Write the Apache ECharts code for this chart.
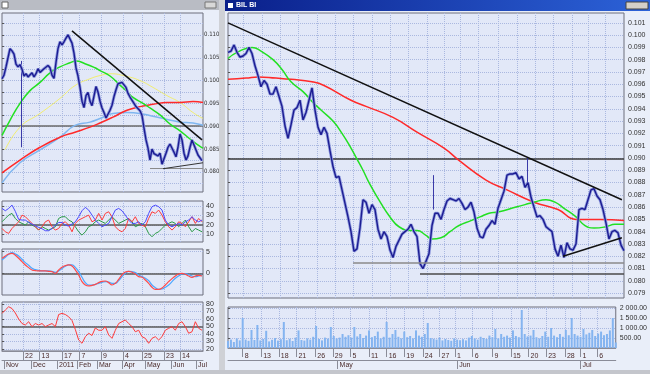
<!DOCTYPE html>
<html><head><meta charset="utf-8">
<script src="https://cdn.jsdelivr.net/npm/echarts@6/dist/echarts.min.js"></script>
<style>html,body{margin:0;padding:0;background:#e9eef9;}#c{width:650px;height:374px;}</style>
</head><body><div id="c"></div>
<script>
// ---------- LEFT WINDOW (daily) ----------
// x unit: sample index 0..100 (one sample per ~2 daily bars)
const leftPrice = [0.1004,0.1012,0.1030,0.1050,0.1070,0.1065,0.1058,0.1036,0.1030,0.1035,
0.1025,0.1010,0.1015,0.1008,0.1010,0.1017,0.1008,0.1015,0.1026,0.1018,
0.1020,0.1026,0.1030,0.1033,0.1028,0.1012,0.1005,0.1040,0.1070,0.1085,
0.1078,0.1085,0.1093,0.1100,0.1098,0.1082,0.1060,0.1028,0.1010,0.0985,
0.0955,0.0941,0.0967,0.0974,0.0955,0.0945,0.0943,0.0987,0.0975,0.0955,
0.0940,0.0930,0.0918,0.0915,0.0935,0.0946,0.0965,0.0980,0.0993,0.0990,
0.0996,0.0995,0.0985,0.0972,0.0964,0.0963,0.0950,0.0943,0.0939,0.0934,
0.0924,0.0896,0.0870,0.0852,0.0826,0.0850,0.0840,0.0836,0.0835,0.0841,
0.0817,0.0813,0.0841,0.0854,0.0861,0.0857,0.0843,0.0833,0.0854,0.0883,
0.0870,0.0841,0.0826,0.0835,0.0854,0.0870,0.0859,0.0848,0.0837,0.0841,
0.08245];
const leftSpikes = [[9.5, 0.1043, 0.0854]];
const leftMaGreen = [[0,0.0880],[4,0.0913],[9,0.0950],[14,0.0978],[19,0.0996],[24,0.1017],[29,0.1030],[34,0.1039],[37,0.1043],[41.5,0.1037],[46.5,0.1028],[49,0.1022],[54,0.1010],[59,0.0990],[62.5,0.0976],[65.5,0.0963],[70.5,0.0950],[74,0.0940],[79,0.0925],[84,0.0905],[89,0.0890],[94,0.0872],[99,0.0856],[100.5,0.0852]];
const leftMaYellow = [[1.5,0.0848],[9,0.0898],[19,0.0928],[29,0.0961],[36.5,0.0989],[44,0.1004],[49,0.1011],[54,0.1015],[62.5,0.1009],[69,0.1000],[75.5,0.0985],[82.5,0.0967],[89,0.0952],[95.5,0.0930],[100.5,0.0917]];
const leftMaBlue = [[0,0.0776],[9,0.0820],[19,0.0848],[29,0.0876],[36.5,0.0902],[44,0.0909],[49,0.0917],[55.5,0.0928],[62.5,0.0930],[69,0.0928],[75.5,0.0922],[82.5,0.0915],[89,0.0909],[95.5,0.0907],[100.5,0.0902]];
const leftMaRed = [[0,0.0798],[9,0.0826],[19,0.0854],[29,0.0876],[36.5,0.0887],[44,0.0898],[49,0.0907],[55.5,0.0920],[62.5,0.0935],[69,0.0943],[75.5,0.0948],[82.5,0.0952],[89,0.0952],[95.5,0.0954],[100.5,0.0952]];
const leftTrend = [[35,0.1109],[100,0.0870]];
const leftSupportFlat = [[74,0.0807],[100.5,0.0807]];
const leftSupportRise = [[80.5,0.0807],[100.5,0.0820]];
const leftLevel = 0.0902;
const leftPriceGridVals = [0.0775,0.0800,0.0825,0.0850,0.0875,0.0900,0.0925,0.0950,0.0975,0.1000,0.1025,0.1050,0.1075,0.1100,0.1125];
const leftPriceTicks = [0.080,0.085,0.090,0.095,0.100,0.105,0.110];

// indicator panels: 61 samples across the same span
const adxBlue = [37.2,34.8,37.2,40.7,34.1,25.7,25.0,25.0,22.5,20.8,19.0,17.3,15.9,13.8,13.8,16.2,19.7,22.5,22.5,19.7,18.7,20.8,23.2,28.5,34.8,38.3,35.5,30.2,25.0,21.5,18.0,19.7,21.5,28.5,35.5,37.2,34.8,30.2,25.0,21.5,21.5,23.2,19.7,23.2,32.0,39.0,40.7,39.0,35.5,25.0,19.7,18.0,19.7,21.5,19.7,23.2,25.0,28.5,25.0,23.2,25.0];
const adxRed = [16.2,12.7,11.0,16.2,19.7,23.2,30.2,28.5,25.0,21.5,18.0,14.5,18.0,23.2,25.0,18.0,14.5,16.2,21.5,23.2,19.7,12.7,21.5,25.0,26.7,28.5,30.2,23.2,25.0,32.0,25.0,32.0,33.7,28.5,18.0,14.5,12.7,16.2,26.7,23.2,28.5,21.5,19.7,18.0,26.7,33.7,32.0,35.5,30.2,23.2,18.0,14.5,18.0,23.2,21.5,18.0,23.2,28.5,21.5,26.7,23.2];
const adxGreen = [23.2,26.7,30.2,32.0,26.7,23.2,21.5,19.7,23.2,19.7,18.0,14.5,18.0,16.2,14.5,16.2,18.0,26.7,28.5,28.5,25.0,23.2,18.0,12.7,9.2,12.7,18.0,19.7,23.2,25.0,23.2,21.5,25.0,28.5,25.0,21.5,23.2,25.0,26.7,23.2,18.0,19.7,21.5,18.0,11.0,7.5,11.0,12.7,16.2,19.7,21.5,23.2,21.5,18.0,21.5,25.0,18.0,12.7,16.2,14.5,12.7];
const adxTicks = [10,20,30,40];
const macdRed = [3.46,4.0,4.46,4.6,4.15,3.46,2.69,1.92,1.31,0.77,0.62,0.54,0.54,0.54,0.46,0.38,0,0.77,1.38,1.77,1.92,1.69,0.77,-0.38,-1.92,-2.69,-2.92,-2.77,-2.54,-2.15,-1.85,-1.77,-2.15,-2.69,-2.31,-1.38,-0.38,0.31,0.46,0.23,-0.15,-0.77,-0.92,-1.54,-2.31,-3.23,-3.69,-3.69,-3.38,-2.69,-1.92,-1.23,-0.62,-0.15,0,-0.23,-0.62,-0.92,-0.62,-0.46,-0.62];
const macdBlue = [3.08,3.69,4.38,4.77,4.46,4.0,3.23,2.46,1.85,1.15,0.85,0.69,0.54,0.54,0.54,0.46,0.23,0.54,1.08,1.62,1.92,1.92,1.38,0.38,-0.92,-2.15,-2.69,-2.69,-2.54,-2.31,-2.08,-1.92,-2.0,-2.31,-2.31,-1.69,-0.77,0,0.46,0.38,0.15,-0.38,-0.77,-1.15,-1.69,-2.69,-3.31,-3.69,-3.62,-3.23,-2.69,-1.92,-1.15,-0.62,-0.15,-0.08,-0.31,-0.62,-0.77,-0.62,-0.38];
const macdTicks = [0,5];
const rsiRed = [67.5,72,76.4,74,68,60,54,52,56.4,49.8,54,52,54,49.8,52,54,49.8,66,67.5,66,63,58,46,32,27.6,36.4,41,38,48,45,45,49.8,38.7,34.2,45,54,56.4,58.7,54,49.8,43,45,36.4,34.2,27.6,34.2,36.4,32,36.4,45,47.6,49.8,45,54,56.4,49.8,41,43,56.4,47.6,45];
const rsiTicks = [20,30,40,50,60,70,80];
const leftDayPos = [10.5,18.75,30,38.75,49.5,60.5,70,81,89];
const leftDayLbl = ['22','13','17','7','9','4','25','23','14'];
const leftMonthPos = [1,14.5,27.5,37.5,47.5,60,71.5,84.5,97];
const leftMonthLbl = ['Nov','Dec','2011','Feb','Mar','Apr','May','Jun','Jul'];

// ---------- RIGHT WINDOW (hourly) ----------
// x unit: sample index 0..132
const rightPrice = [0.0986,0.0987,0.0992,0.0986,0.0982,0.0983,0.0985,0.0990,0.0985,0.0975,
0.0967,0.0958,0.0963,0.0960,0.0952,0.0952,0.0958,0.0950,0.0942,0.0926,
0.0916,0.0927,0.0939,0.0941,0.0947,0.0931,0.0937,0.0947,0.0957,0.0939,
0.0925,0.0919,0.0925,0.0920,0.0906,0.0893,0.0884,0.0885,0.0874,0.0863,
0.0852,0.0840,0.0824,0.0826,0.0843,0.0866,0.0864,0.0855,0.0862,0.0858,
0.0842,0.0834,0.0840,0.0836,0.0825,0.0819,0.0828,0.0833,0.0838,0.0840,
0.0842,0.0846,0.0840,0.0836,0.0814,0.0810,0.0816,0.0822,0.0845,0.0855,
0.0855,0.0850,0.0858,0.0865,0.0867,0.0866,0.0865,0.0867,0.0863,0.0858,
0.0860,0.0864,0.0856,0.0843,0.0836,0.0835,0.0842,0.0845,0.0849,0.0846,
0.0859,0.0866,0.0873,0.0886,0.0887,0.0887,0.0888,0.0883,0.0885,0.0876,
0.0880,0.0868,0.0860,0.0852,0.0853,0.0850,0.0844,0.0842,0.0840,0.0826,
0.0820,0.0829,0.0819,0.0831,0.0826,0.0825,0.0830,0.0858,0.0859,0.0858,
0.0866,0.0874,0.0875,0.0869,0.0866,0.0858,0.0847,0.0834,0.0840,0.0841,
0.0839,0.0829,0.08245];
const rightSpikes = [[68.3,0.0858,0.0886],[99.7,0.0876,0.0900]];
const rightMaRed = [[0,0.0964],[6,0.0965],[10,0.0966],[16,0.0965],[21,0.0964],[28,0.0962],[32,0.0959],[41,0.0947],[46,0.0942],[55,0.0933],[63,0.0921],[72,0.0908],[77,0.0898],[86,0.0882],[93,0.0874],[102,0.0864],[110,0.0858],[116,0.0850],[124,0.0850],[132,0.0849]];
const rightMaGreen = [[0,0.0981],[3,0.0986],[8,0.0990],[11,0.0987],[15,0.0980],[18,0.0972],[21,0.0962],[25,0.0954],[28,0.0946],[31,0.0939],[35,0.0930],[38,0.0920],[41,0.0908],[43,0.0899],[45,0.0890],[47,0.0880],[51,0.0863],[54,0.0852],[57,0.0844],[61,0.0841],[63,0.0841],[66,0.0837],[68,0.0834],[71,0.0835],[74,0.0840],[77,0.0845],[81,0.0849],[84,0.0852],[87,0.0855],[90,0.0856],[96,0.0860],[99,0.0862],[102,0.0864],[106,0.0866],[109,0.0864],[112,0.0859],[116,0.0852],[119,0.0845],[122,0.0843],[126,0.0844],[129,0.0846],[132,0.0846]];
const rightTrend = [[0,0.1010],[131.3,0.0866]];
const rightSupportFlat = [[41.7,0.0815],[132,0.0815]];
const rightSupportLow = [[64,0.0806],[132,0.0806]];
const rightSupportRise = [[111.7,0.0820],[131.3,0.0835]];
const rightLevel = 0.0899;
const rightPriceTicks = [0.079,0.080,0.081,0.082,0.083,0.084,0.085,0.086,0.087,0.088,0.089,0.090,0.091,0.092,0.093,0.094,0.095,0.096,0.097,0.098,0.099,0.100,0.101];
const volume = [350,420,300,480,380,1500,420,360,900,400,
1150,380,450,860,330,410,500,370,440,1300,
390,460,350,520,880,400,370,480,420,560,
1100,450,380,520,470,1050,600,480,520,700,
560,640,520,1050,580,700,500,620,880,540,
600,820,480,560,1300,520,700,900,560,480,
820,540,600,480,880,620,560,700,1250,500,
460,420,520,380,450,400,360,480,420,390,
440,380,520,600,480,420,560,500,450,620,
540,950,480,700,560,620,520,880,600,540,
1900,700,580,620,900,540,480,600,820,560,
1000,620,540,700,560,900,640,1500,700,620,
560,950,680,760,900,600,720,820,640,700,
880,1500,277];
const volTicks = [500,1000,1500,2000];
const rightDayPos = [5,11.3,17.3,23.3,29.7,35.7,41.7,48,54,60,66.3,72,77.3,83.3,90,96.3,102.3,108.3,114.7,120,125.7];
const rightDayLbl = ['8','13','18','21','26','29','5','11','16','19','24','27','1','6','9','15','20','23','28','1','6'];
const rightMonthPos = [37.3,78,120];
const rightMonthLbl = ['May','Jun','Jul'];
const windowTitle = 'BIL BI';

// ---------- build ----------
const FONT = 'Liberation Sans';
const NARROW = "'Liberation Sans Narrow','DejaVu Sans Condensed','Liberation Sans',sans-serif";
const GRIDC = '#aab8e0';
const txt = {fontFamily: FONT, fontSize: 7, color: '#303030'};
const gbase = {show: true, backgroundColor: '#e2e8f8', borderColor: '#6c6e7c', borderWidth: 1};
const grid = [
  Object.assign({left: 2, top: 13, width: 201, height: 179}, gbase),
  Object.assign({left: 2, top: 201, width: 201, height: 41}, gbase),
  Object.assign({left: 2, top: 249, width: 201, height: 46}, gbase),
  Object.assign({left: 2, top: 302, width: 201, height: 49}, gbase),
  Object.assign({left: 228, top: 13, width: 396, height: 285}, gbase),
  Object.assign({left: 228, top: 307, width: 396, height: 41}, gbase)
];
const lookup = (pos, lbl) => v => { const i = pos.findIndex(p => Math.abs(p - v) < 1e-6); return i >= 0 ? lbl[i] : ''; };
const split = {show: true, lineStyle: {color: GRIDC, type: 'dotted', width: 1}};
function hiddenX(g, max, pos) {
  return {type: 'value', gridIndex: g, min: 0, max: max, axisLine: {show: false},
    axisTick: {show: false, customValues: pos}, axisLabel: {show: false}, splitLine: split};
}
function labelX(g, max, pos, lbl, offset, withSplit) {
  return {type: 'value', gridIndex: g, min: 0, max: max, position: 'bottom', offset: offset,
    axisLine: {show: true, lineStyle: {color: '#8a8c98'}},
    axisTick: {show: true, length: 9, customValues: pos, lineStyle: {color: '#8a8c98'}},
    axisLabel: {show: true, customValues: pos, align: 'left', margin: 2, padding: [0,0,0,2],
      formatter: lookup(pos, lbl), color: '#4a2a2a', fontFamily: FONT, fontSize: 7},
    splitLine: withSplit ? split : {show: false}};
}
const xAxis = [
  hiddenX(0, 100.5, leftDayPos), hiddenX(1, 100.5, leftDayPos), hiddenX(2, 100.5, leftDayPos),
  labelX(3, 100.5, leftDayPos, leftDayLbl, 0, true),
  labelX(3, 100.5, leftMonthPos, leftMonthLbl, 9, false),
  hiddenX(4, 132, rightDayPos),
  labelX(5, 132, rightDayPos, rightDayLbl, 3, true),
  labelX(5, 132, rightMonthPos, rightMonthLbl, 12, false)
];
function yAx(g, min, max, tickVals, labelVals, fmt, labMargin, small) {
  return {type: 'value', gridIndex: g, position: 'right', min: min, max: max, scale: true,
    axisLine: {show: false},
    axisTick: {show: true, length: 2, customValues: tickVals, lineStyle: {color: '#555'}},
    axisLabel: Object.assign({show: true, customValues: labelVals, margin: labMargin, formatter: fmt}, txt, small ? {fontFamily: NARROW, fontSize: 6} : {}),
    splitLine: split};
}
const yAxis = [
  yAx(0, 0.0756, 0.1148, leftPriceGridVals, leftPriceTicks, v => v.toFixed(3), 1, true),
  yAx(1, 2, 45, adxTicks, adxTicks, v => String(v), 3),
  yAx(2, -5, 5.6, macdTicks, macdTicks, v => String(v), 3),
  yAx(3, 17.3, 82.7, rsiTicks, rsiTicks, v => String(v), 3),
  yAx(4, 0.0786, 0.1018, rightPriceTicks, rightPriceTicks, v => v.toFixed(3), 4),
  yAx(5, 0, 2050, volTicks, volTicks, v => { const s = v.toFixed(2).split('.'); return s[0].replace(/\B(?=(\d{3})+(?!\d))/g, ' ') + '.' + s[1]; }, 4)
];

const series = [];
function line(xi, yi, data, color, width, smooth, z) {
  series.push({type: 'line', xAxisIndex: xi, yAxisIndex: yi, data: data, showSymbol: false, symbol: 'none',
    smooth: smooth, lineStyle: {color: color, width: width}, z: z || 2, silent: true});
}
function seg(xi, yi, coords, color, width, z) {
  series.push({type: 'lines', coordinateSystem: 'cartesian2d', xAxisIndex: xi, yAxisIndex: yi,
    data: [{coords: coords}], lineStyle: {color: color, width: width, opacity: 1}, z: z || 4, silent: true});
}
function lastBox(idx, value, text, small) {
  series[idx].markLine = {silent: true, symbol: 'none', animation: false,
    lineStyle: {opacity: 0},
    data: [{yAxis: value}],
    label: {show: true, position: 'end', distance: 1, formatter: text, fontFamily: small ? NARROW : FONT, fontSize: small ? 6 : 7,
      color: '#1a2a80', backgroundColor: '#ffffff', borderColor: '#3050c0', borderWidth: 1, padding: [1, 1, 0, 1]}};
}
const idxPairs = (arr, step) => arr.map((v, i) => [i * step, v]);

// left price panel
seg(0, 0, [[0, leftLevel], [100.5, leftLevel]], '#6a6a6a', 1.5, 1);
line(0, 0, leftMaYellow, '#f2ee70', 1, true, 2);
line(0, 0, leftMaBlue, '#7fb6f0', 1.5, true, 2);
line(0, 0, leftMaRed, '#ff2a2a', 1.5, true, 3);
line(0, 0, leftMaGreen, '#22e022', 1.5, true, 3);
line(0, 0, idxPairs(leftPrice, 1), '#8d98dc', 3, false, 5);
line(0, 0, idxPairs(leftPrice, 1), '#1c1c92', 1.4, false, 6);
lastBox(series.length - 1, leftPrice[leftPrice.length - 1], leftPrice[leftPrice.length - 1].toFixed(5), true);
leftSpikes.forEach(s => seg(0, 0, [[s[0], s[1]], [s[0], s[2]]], '#3a3aa8', 1, 5));
seg(0, 0, leftTrend, '#111111', 1.5, 7);
seg(0, 0, leftSupportFlat, '#8a8a8a', 1.2, 7);
seg(0, 0, leftSupportRise, '#333333', 1, 7);

// ADX panel
seg(1, 1, [[0, 20], [100.5, 20]], '#5a5a5a', 1.5, 1);
line(1, 1, idxPairs(adxGreen, 100 / 60), '#2a9a46', 1, false, 3);
line(1, 1, idxPairs(adxRed, 100 / 60), '#ff3a3a', 1, false, 3);
line(1, 1, idxPairs(adxBlue, 100 / 60), '#4a4aff', 1, false, 4);
// MACD panel
seg(2, 2, [[0, 0], [100.5, 0]], '#5a5a5a', 1.5, 1);
line(2, 2, idxPairs(macdBlue, 100 / 60), '#4aa6ff', 1.2, true, 3);
line(2, 2, idxPairs(macdRed, 100 / 60), '#ff4a4a', 1.2, true, 4);
// RSI panel
seg(3, 3, [[0, 50], [100.5, 50]], '#5a5a5a', 1.5, 1);
line(3, 3, idxPairs(rsiRed, 100 / 60), '#ff3a3a', 1, false, 3);

// right price panel
seg(5, 4, [[0, rightLevel], [132, rightLevel]], '#3a3a3a', 1.5, 1);
line(5, 4, rightMaRed, '#ff2a2a', 1.5, true, 3);
line(5, 4, rightMaGreen, '#22e022', 1.5, true, 3);
line(5, 4, idxPairs(rightPrice, 1), '#8d98dc', 3, false, 5);
line(5, 4, idxPairs(rightPrice, 1), '#1c1c92', 1.4, false, 6);
lastBox(series.length - 1, rightPrice[rightPrice.length - 1], rightPrice[rightPrice.length - 1].toFixed(5));
rightSpikes.forEach(s => seg(5, 4, [[s[0], s[1]], [s[0], s[2]]], '#3a3aa8', 1, 5));
seg(5, 4, rightTrend, '#111111', 1.5, 7);
seg(5, 4, rightSupportFlat, '#8a8a8a', 1.5, 7);
seg(5, 4, rightSupportLow, '#4a4a4a', 1.5, 7);
seg(5, 4, rightSupportRise, '#111111', 1.5, 7);

// volume
series.push({type: 'bar', xAxisIndex: 6, yAxisIndex: 5, data: idxPairs(volume, 1), barWidth: 2,
  itemStyle: {color: '#84b4f0'}, silent: true, z: 3});
lastBox(series.length - 1, volume[volume.length - 1], volume[volume.length - 1].toFixed(2));

const graphic = [
  {type: 'rect', shape: {x: 0, y: 0, width: 219, height: 10}, style: {fill: '#b9bcc4'}, z: 100},
  {type: 'rect', shape: {x: 2, y: 2, width: 6, height: 6}, style: {fill: '#ffffff', stroke: '#666'}, z: 101},
  {type: 'rect', shape: {x: 205, y: 2, width: 11, height: 6}, style: {fill: '#d8d8d8', stroke: '#777'}, z: 101},
  {type: 'rect', shape: {x: 219, y: 0, width: 6, height: 374}, style: {fill: '#cfd1d6'}, z: 100},
  {type: 'rect', shape: {x: 225, y: 0, width: 425, height: 11},
    style: {fill: new echarts.graphic.LinearGradient(0, 0, 1, 0, [{offset: 0, color: '#0a1f8a'}, {offset: 1, color: '#2c62d8'}])}, z: 100},
  {type: 'rect', shape: {x: 228, y: 3, width: 5, height: 5}, style: {fill: '#ffffff'}, z: 101},
  {type: 'text', x: 236, y: 2, style: {text: windowTitle, fill: '#ffffff', font: 'bold 7px ' + FONT}, z: 101},
  {type: 'rect', shape: {x: 626, y: 2, width: 22, height: 7}, style: {fill: '#d4d0c8', stroke: '#444'}, z: 101},
  {type: 'rect', shape: {x: 0, y: 370, width: 650, height: 4}, style: {fill: '#c4c6cc'}, z: 100}
];

const chart = echarts.init(document.getElementById('c'), null, {renderer: 'canvas'});
chart.setOption({animation: false, backgroundColor: '#e9eef9', grid, xAxis, yAxis, series, graphic});
</script></body></html>
